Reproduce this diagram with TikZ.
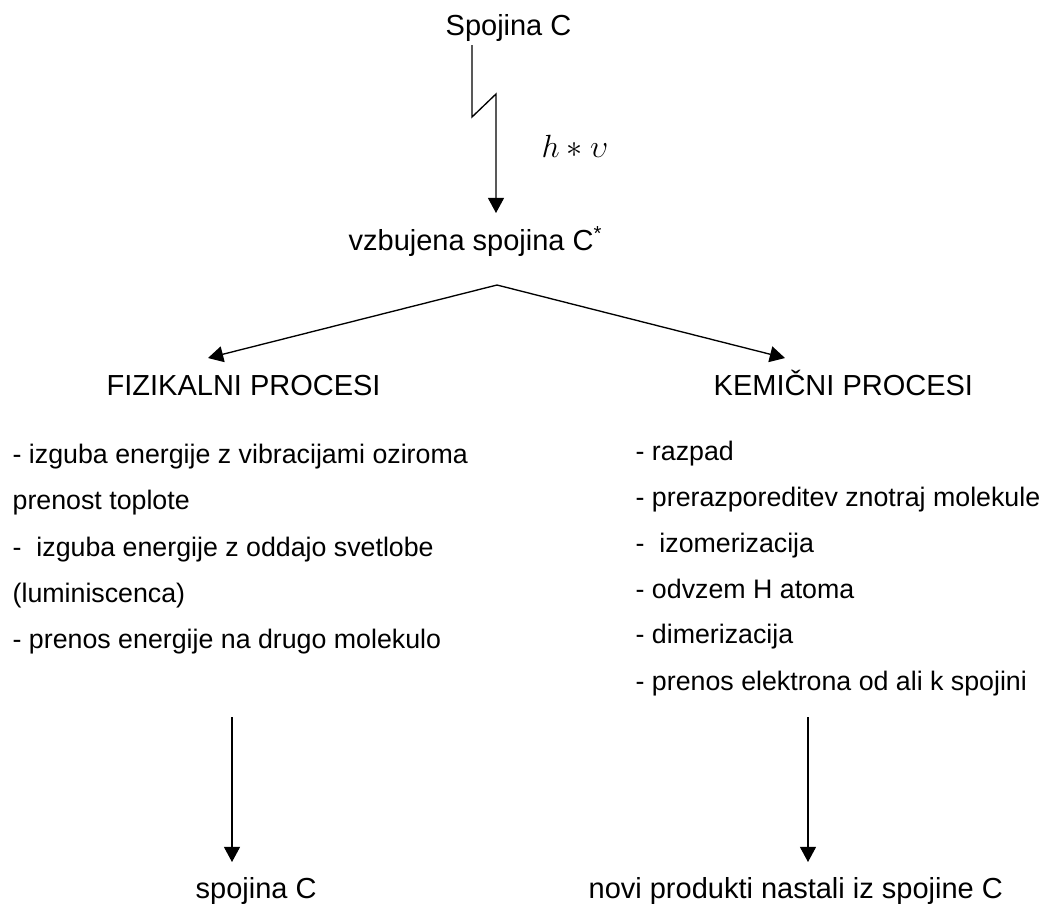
\documentclass[tikz,border=0pt]{standalone}
\usepackage{fontspec}
\setmainfont{Liberation Sans}
\usetikzlibrary{arrows.meta}

\begin{document}
\begin{tikzpicture}[x=0.4484pt, y=-0.4484pt, line width=0.6pt,
    arr/.style={-{Triangle[width=7.2pt,length=6.8pt]}},
    lbl/.style={inner sep=0pt, anchor=base west, font=\fontsize{13}{15}\selectfont},
    item/.style={inner sep=0pt, anchor=base west, font=\fontsize{12}{14}\selectfont}]
  \useasboundingbox (0,0) rectangle (1040,903);

  % top: compound and excitation
  \node[lbl] (spoj) at (445,35) {Spojina C};
  \node[lbl] (vzb) at (348,250) {vzbujena spojina C\textsuperscript{*}};
  \node[lbl, font=\fontsize{14.5}{16}\selectfont] (hv) at (541,157) {$h*\upsilon$};

  \coordinate (z0) at (472,45);
  \coordinate (z1) at (472,117);
  \coordinate (z2) at (496,94);
  \coordinate (z3) at (496,213);
  \draw[arr] (z0) -- (z1) -- (z2) -- (z3); % light

  % the two branches
  \node[lbl] (fiz) at (106,395) {FIZIKALNI PROCESI};
  \node[lbl] (kem) at (713,395) {KEMIČNI PROCESI};

  \coordinate (apex) at (497,285);
  \coordinate (fiztip) at (208,358);
  \coordinate (kemtip) at (785,358);
  \draw[arr] (apex) -- (fiztip);
  \draw[arr] (apex) -- (kemtip);

  % physical processes
  \node[item] (l1) at (12,463) {- izguba energije z vibracijami oziroma};
  \node[item] (l2) at (12,509) {prenost toplote};
  \node[item] (l3) at (12,556) {-\ \ izguba energije z oddajo svetlobe};
  \node[item] (l4) at (12,602) {(luminiscenca)};
  \node[item] (l5) at (12,648) {- prenos energije na drugo molekulo};

  % chemical processes
  \node[item] (r1) at (635,460) {- razpad};
  \node[item] (r2) at (635,506) {- prerazporeditev znotraj molekule};
  \node[item] (r3) at (635,552) {-\ \ izomerizacija};
  \node[item] (r4) at (635,598) {- odvzem H atoma};
  \node[item] (r5) at (635,643) {- dimerizacija};
  \node[item] (r6) at (635,690) {- prenos elektrona od ali k spojini};

  % results
  \node[lbl] (spojC) at (195,898) {spojina C};
  \node[lbl] (novi) at (588,898) {novi produkti nastali iz spojine C};

  \coordinate (fizout) at (232,717);
  \coordinate (fizend) at (232,862);
  \coordinate (kemout) at (808,717);
  \coordinate (kemend) at (808,862);
  \draw[arr] (fizout) -- (fizend);
  \draw[arr] (kemout) -- (kemend);

\end{tikzpicture}
\end{document}
